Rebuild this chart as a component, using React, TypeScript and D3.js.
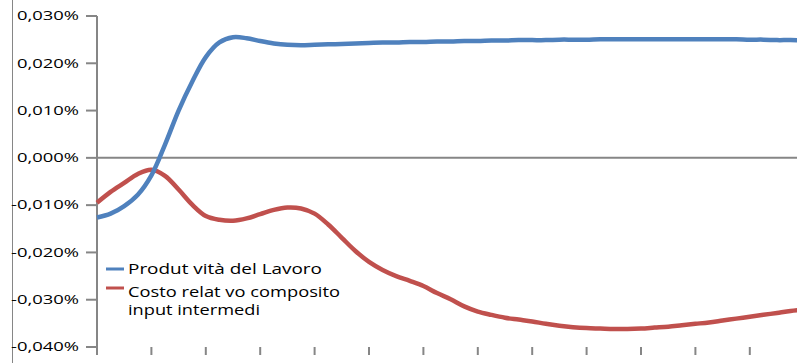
import React from "react";
import * as d3 from "d3";

// Sample positions in category-tick units (four samples per tick interval)
const STEP = 0.25;

// Produttività del Lavoro (% deviation)
const produttivita: number[] = [
  -0.0126, -0.0118, -0.0102, -0.0078, -0.0037, 0.0028, 0.01, 0.0161, 0.0213, 0.0244,
  0.0255, 0.0253, 0.0247, 0.0242, 0.0239, 0.0238, 0.0239, 0.024, 0.0241, 0.0242,
  0.0243, 0.0244, 0.0244, 0.0245, 0.0245, 0.0246, 0.0246, 0.0247, 0.0247, 0.0248,
  0.0248, 0.0249, 0.0249, 0.0249, 0.025, 0.025, 0.025, 0.0251, 0.0251, 0.0251,
  0.0251, 0.0251, 0.0251, 0.0251, 0.0251, 0.0251, 0.0251, 0.0251, 0.025, 0.025,
  0.0249, 0.0249, 0.0248,
];

// Costo relativo composito input intermedi (% deviation)
const costoRelativo: number[] = [
  -0.0095, -0.0072, -0.0053, -0.0034, -0.0025, -0.0038, -0.0067, -0.0099, -0.0123, -0.0131,
  -0.0133, -0.0128, -0.0119, -0.011, -0.0105, -0.0107, -0.0118, -0.0141, -0.0169, -0.0197,
  -0.022, -0.0237, -0.025, -0.026, -0.0271, -0.0286, -0.0299, -0.0314, -0.0325, -0.0332,
  -0.0338, -0.0342, -0.0346, -0.0351, -0.0355, -0.0358, -0.036, -0.0361, -0.0362, -0.0362,
  -0.0361, -0.0359, -0.0357, -0.0354, -0.0351, -0.0348, -0.0344, -0.034, -0.0336, -0.0332,
  -0.0328, -0.0324, -0.0321,
];

const yTicks: number[] = [0.03, 0.02, 0.01, 0, -0.01, -0.02, -0.03, -0.04];
const yTickLabels: string[] = [
  "0,030%", "0,020%", "0,010%", "0,000%", "-0,010%", "-0,020%", "-0,030%", "-0,040%",
];
const categoryTicks: number[] = [1, 2, 3, 4, 5, 6, 7, 8, 9, 10, 11, 12];

const seriesNames: string[][] = [
  ["Produt vità del Lavoro"],
  ["Costo relat vo composito", "input intermedi"],
];
const seriesColors: string[] = ["#4F81BD", "#C0504D"];

const W = 797;
const H = 363;
const AXIS = "#868686";
const FONT = "'Open Sans', 'DejaVu Sans', sans-serif";

export default function App() {
  const x = d3.scaleLinear().domain([0, 13]).range([97, 97 + 13 * 54.4]);
  const y = d3.scaleLinear().domain([-0.04, 0.03]).range([347, 16]);

  const line = d3
    .line<number>()
    .x((_, i) => x(i * STEP))
    .y((d) => y(d))
    .curve(d3.curveCatmullRom.alpha(0.5));

  const labelLengths = [62, 62, 62, 62, 68, 68, 68, 68];
  const legendLengths = [[194], [212, 132]];

  return (
    <div style={{ position: "fixed", left: 0, top: 0 }}>
      <svg width={W} height={H} style={{ display: "block", background: "#fff" }}>
        <defs>
          <clipPath id="plot">
            <rect x={0} y={0} width={W} height={H} />
          </clipPath>
        </defs>

        {/* outer frame edge */}
        <line x1={12.5} x2={12.5} y1={0} y2={H} stroke={AXIS} strokeWidth={1} />

        {/* y axis */}
        <line x1={97} x2={97} y1={y(0.03)} y2={355} stroke={AXIS} strokeWidth={2} />
        {yTicks.map((t, i) => (
          <g key={t}>
            <line x1={86} x2={97} y1={y(t)} y2={y(t)} stroke={AXIS} strokeWidth={2} />
            <text
              x={79}
              y={y(t)}
              dy="0.36em"
              textAnchor="end"
              fontFamily={FONT}
              fontSize={12}
              fill="#000"
              textLength={labelLengths[i]}
              lengthAdjust="spacingAndGlyphs"
            >
              {yTickLabels[i]}
            </text>
          </g>
        ))}

        {/* zero line */}
        <line x1={97} x2={W} y1={y(0)} y2={y(0)} stroke={AXIS} strokeWidth={2} />

        {/* category ticks */}
        {categoryTicks.map((c) => (
          <line key={c} x1={x(c)} x2={x(c)} y1={347} y2={355} stroke={AXIS} strokeWidth={2} />
        ))}

        <g clipPath="url(#plot)">
          <path d={line(costoRelativo) ?? ""} fill="none" stroke={seriesColors[1]} strokeWidth={4.5} />
          <path d={line(produttivita) ?? ""} fill="none" stroke={seriesColors[0]} strokeWidth={4.5} />
        </g>

        {/* legend */}
        <g fontFamily={FONT} fontSize={14} fill="#000">
          <line x1={106} x2={124} y1={269} y2={269} stroke={seriesColors[0]} strokeWidth={3} />
          <text x={128} y={274} textLength={legendLengths[0][0]} lengthAdjust="spacingAndGlyphs">
            {seriesNames[0][0]}
          </text>
          <line x1={106} x2={124} y1={288} y2={288} stroke={seriesColors[1]} strokeWidth={3} />
          <text x={128} y={296.5} textLength={legendLengths[1][0]} lengthAdjust="spacingAndGlyphs">
            {seriesNames[1][0]}
          </text>
          <text x={128} y={315} textLength={legendLengths[1][1]} lengthAdjust="spacingAndGlyphs">
            {seriesNames[1][1]}
          </text>
        </g>
      </svg>
    </div>
  );
}
